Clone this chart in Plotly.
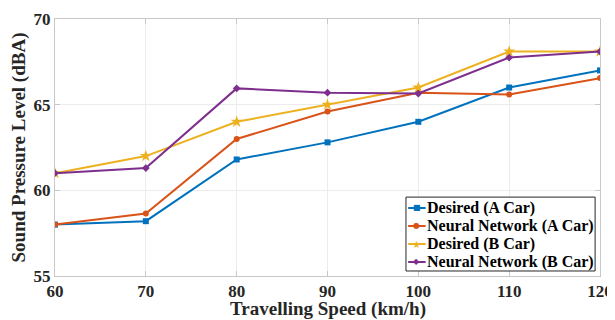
import plotly.graph_objects as go

speed = [60, 70, 80, 90, 100, 110, 120]
desired_a = [58.0, 58.2, 61.8, 62.8, 64.0, 66.0, 67.0]
neural_a = [58.0, 58.65, 63.0, 64.6, 65.7, 65.6, 66.55]
desired_b = [61.0, 62.0, 64.0, 65.0, 66.0, 68.1, 68.1]
neural_b = [61.0, 61.3, 65.95, 65.7, 65.65, 67.75, 68.1]

series = [
    ("Desired (A Car)", desired_a, "#0072BD", "square", "\u25a0"),
    ("Neural Network (A Car)", neural_a, "#D95319", "circle", "\u25cf"),
    ("Desired (B Car)", desired_b, "#EDB120", "star", "\u2605"),
    ("Neural Network (B Car)", neural_b, "#7E2F8E", "diamond", "\u25c6"),
]

fig = go.Figure()
for name, vals, color, sym, glyph in series:
    fig.add_trace(go.Scatter(
        x=speed, y=vals, name=name, mode="lines+markers",
        line=dict(color=color, width=2),
        marker=dict(symbol=sym, size=6 if sym != "star" else 9, color=color),
        showlegend=False,
    ))

ff = "Liberation Serif"

# compact legend box (MATLAB style), placed in the lower right of the axes
shapes = [dict(type="rect", xref="paper", yref="paper", x0=0.644, x1=0.991,
               y0=0.0195, y1=0.307, line=dict(color="#262626", width=1),
               fillcolor="white", layer="above")]
annotations = []
row_y = [0.2646, 0.1946, 0.1245, 0.0545]
for (name, vals, color, sym, glyph), yy in zip(series, row_y):
    shapes.append(dict(type="line", xref="paper", yref="paper", x0=0.648, x1=0.680,
                       y0=yy, y1=yy, line=dict(color=color, width=2), layer="above"))
    annotations.append(dict(xref="paper", yref="paper", x=0.664, y=yy, text=glyph,
                            showarrow=False, xanchor="center", yanchor="middle",
                            font=dict(family="DejaVu Sans", size=8 if glyph != "\u2605" else 10,
                                      color=color)))
    annotations.append(dict(xref="paper", yref="paper", x=0.679, y=yy, text=name,
                            showarrow=False, xanchor="left", yanchor="middle",
                            font=dict(family=ff, size=16, color="#000000", weight="bold")))

annotations.append(dict(xref="paper", yref="paper", x=0.5, y=-0.127,
                        text="Travelling Speed (km/h)", showarrow=False,
                        xanchor="center", yanchor="middle",
                        font=dict(family=ff, size=19, weight="bold", color="#262626")))

fig.update_layout(
    width=607, height=312,
    margin=dict(l=47, r=15, t=11, b=44),
    paper_bgcolor="white", plot_bgcolor="white",
    font=dict(family=ff, size=17, color="#262626"),
    shapes=shapes, annotations=annotations,
)
common = dict(
    showgrid=True, gridcolor="#ececec", gridwidth=1,
    showline=True, linecolor="#c8c8c8", linewidth=1, mirror="ticks",
    ticks="inside", ticklen=5, tickcolor="#c8c8c8",
    tickfont=dict(family=ff, size=17, weight="bold", color="#262626"),
    zeroline=False, automargin=False,
)
fig.update_xaxes(range=[60, 120], tickvals=speed, **common)
fig.update_yaxes(
    range=[55, 70], tickvals=[55, 60, 65, 70],
    title=dict(text="Sound Pressure Level (dBA)",
               font=dict(family=ff, size=19, weight="bold", color="#262626")),
    **common,
)
fig.write_html("out.html")
